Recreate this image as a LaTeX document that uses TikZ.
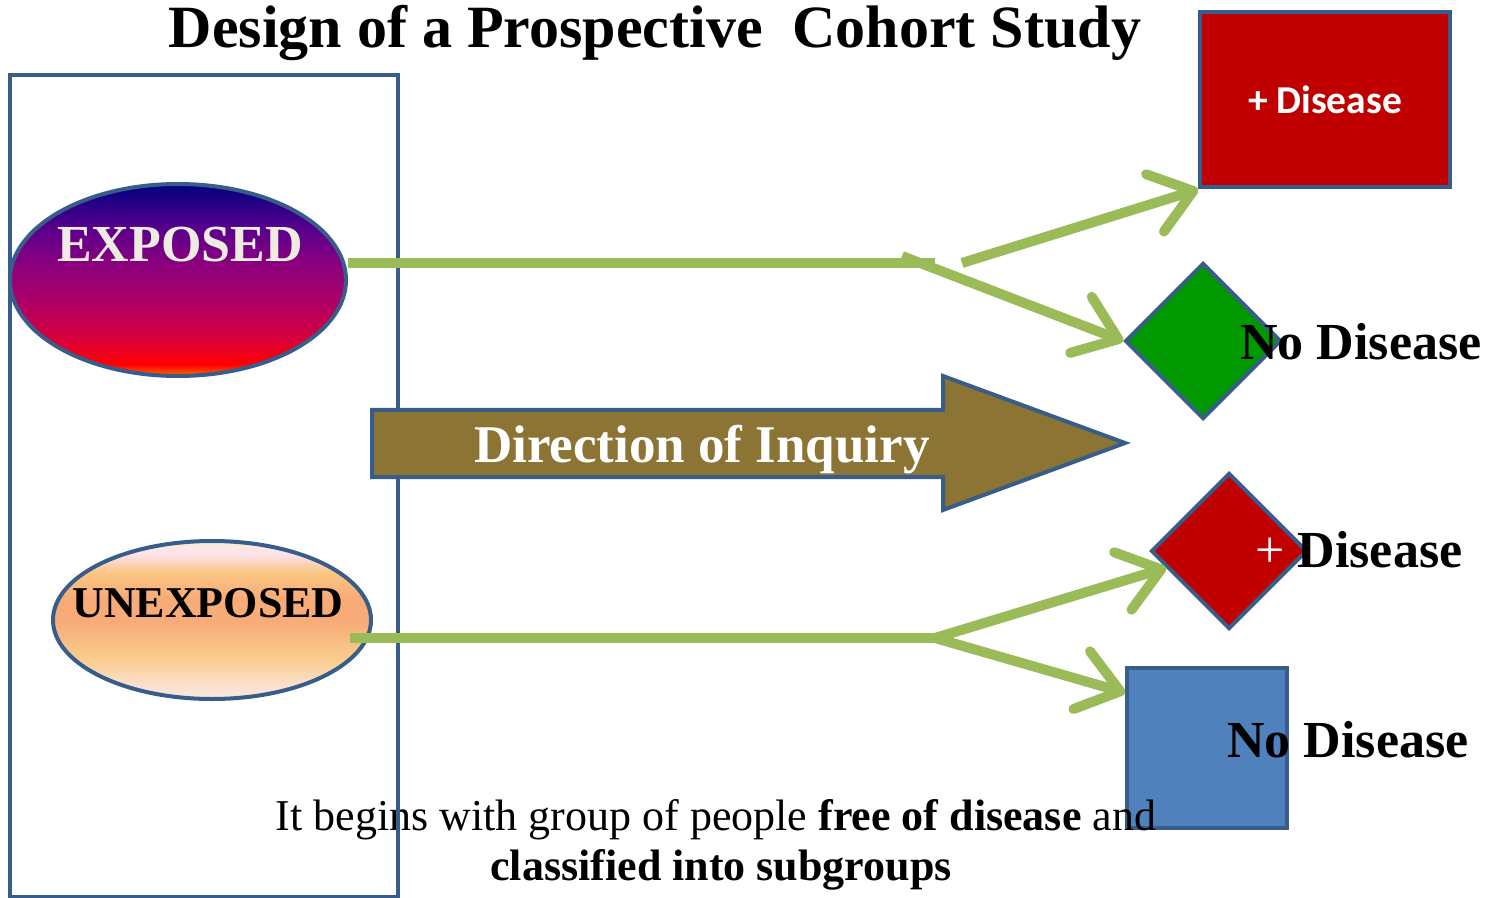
\documentclass[tikz,border=0pt]{standalone}
\usepackage{fontspec}
\setmainfont{Liberation Serif}
\newfontfamily\calibri{Carlito}
\usepackage{tikz}
\usetikzlibrary{arrows.meta,shapes.geometric,calc}
\definecolor{cohEdge}{RGB}{56,93,138}
\definecolor{cohGreen}{RGB}{155,187,89}
\definecolor{cohBrown}{RGB}{139,116,52}
\definecolor{cohRed}{RGB}{192,0,0}
\definecolor{cohLeaf}{RGB}{0,153,0}
\definecolor{cohBlue}{RGB}{79,129,189}
\definecolor{cohCream}{RGB}{238,236,225}
\pgfdeclareverticalshading{expShade}{100bp}{rgb(0bp)=(1,.43,0); rgb(25bp)=(1,.43,0); rgb(28bp)=(1,0,0); rgb(35bp)=(.84,0,.24); rgb(45bp)=(.67,0,.41); rgb(55bp)=(.53,0,.5); rgb(63bp)=(.36,0,.55); rgb(75bp)=(0,0,.5); rgb(100bp)=(0,0,.5)}
\pgfdeclareverticalshading{unexpShade}{100bp}{rgb(0bp)=(.98,.91,.86); rgb(25bp)=(.98,.91,.86); rgb(28bp)=(.98,.89,.84); rgb(38bp)=(.98,.80,.55); rgb(50bp)=(.97,.67,.47); rgb(57bp)=(.97,.67,.47); rgb(65bp)=(.98,.78,.51); rgb(71bp)=(.99,.89,.93); rgb(75bp)=(.98,.93,.83); rgb(100bp)=(.98,.93,.83)}
\newcommand{\bigtxt}[1]{\fontsize{#1}{#1}\selectfont\bfseries}

\begin{document}
\begin{tikzpicture}[x=0.5pt,y=-0.5pt,
    frame/.style={draw=cohEdge,line width=2pt},
    grp/.style={ellipse,draw=cohEdge,line width=2pt,inner sep=0pt},
    outc/.style={draw=cohEdge,line width=2pt,inner sep=0pt},
    lbl/.style={anchor=base,inner sep=0pt},
    flow/.style={cohGreen,line width=5pt},
    arrow/.style={flow,-{Straight Barb[length=20pt,width=30pt,round]}}
  ]
    \useasboundingbox (0,0) rectangle (1493,898);
    \node[lbl,font=\bigtxt{30}] (title) at (655,48) {Design of a Prospective\ \ Cohort Study};
    % outcomes
    \node[outc,fill=cohRed,minimum width=125pt,minimum height=87.5pt,text=white,font=\calibri\bfseries\fontsize{19.75}{20}\selectfont] (dis1) at (1325,100) {+ Disease};
    \node[outc,diamond,fill=cohLeaf,minimum width=78pt,minimum height=78pt] (nodis1) at (1203,341) {};
    \node[outc,diamond,fill=cohRed,minimum width=78pt,minimum height=78pt] (dis2) at (1229,551) {};
    \node[outc,fill=cohBlue,minimum width=80pt,minimum height=80pt] (nodis2) at (1207,748) {};
    \node[lbl,anchor=base west,font=\bigtxt{26}] (nodis1txt) at (1240,360) {No Disease};
    \node[lbl,anchor=base west,font=\bigtxt{26}] (dis2txt) at (1255,567) {\textcolor{white}{\mdseries+} Disease};
    \node[lbl,anchor=base west,font=\bigtxt{26}] (nodis2txt) at (1227,757) {No Disease};
    % note under the groups
    \node[lbl,font=\fontsize{22}{22}\selectfont] (note1) at (716,830) {It begins with group of people \textbf{free of disease} and};
    \node[lbl,font=\bigtxt{22}] (note2) at (721,880) {classified into subgroups};
    % cohort
    \draw[frame] (10,75) rectangle (398,897);
    \node[grp,shading=expShade,minimum width=168pt,minimum height=96pt] (exp) at (178,280) {};
    \node[grp,shading=unexpShade,minimum width=159pt,minimum height=79pt] (unexp) at (212,620) {};
    \node[lbl,text=cohCream,font=\bigtxt{26}] (exptxt) at (180,262) {EXPOSED};
    \node[lbl,font=\bigtxt{22}] (unexptxt) at (208,617) {UNEXPOSED};
    % follow-up lines
    \coordinate (f1) at (935,263);
    \coordinate (f1lo) at (902,256);
    \coordinate (f1up) at (962,263);
    \coordinate (f2) at (935,638);
    \draw[flow] (exp.east |- f1) -- (f1);
    \draw[arrow] (f1lo) -- (nodis1.west);
    \draw[arrow] (f1up) -- (dis1.south west);
    \draw[flow] ([xshift=-11.5pt]unexp.east |- f2) -- (f2);
    \draw[arrow] (f2) -- (dis2.195);
    \draw[arrow] (f2) -- (nodis2.146);
    % direction
    \draw[draw=cohEdge,line width=2pt,fill=cohBrown] (372,410) -- (943,410) -- (943,376) -- (1125,443) -- (943,510) -- (943,477) -- (372,477) -- cycle;
    \node[lbl,text=white,font=\bigtxt{26.5}] (dirtxt) at (702,462) {Direction of Inquiry};
\end{tikzpicture}
\end{document}
